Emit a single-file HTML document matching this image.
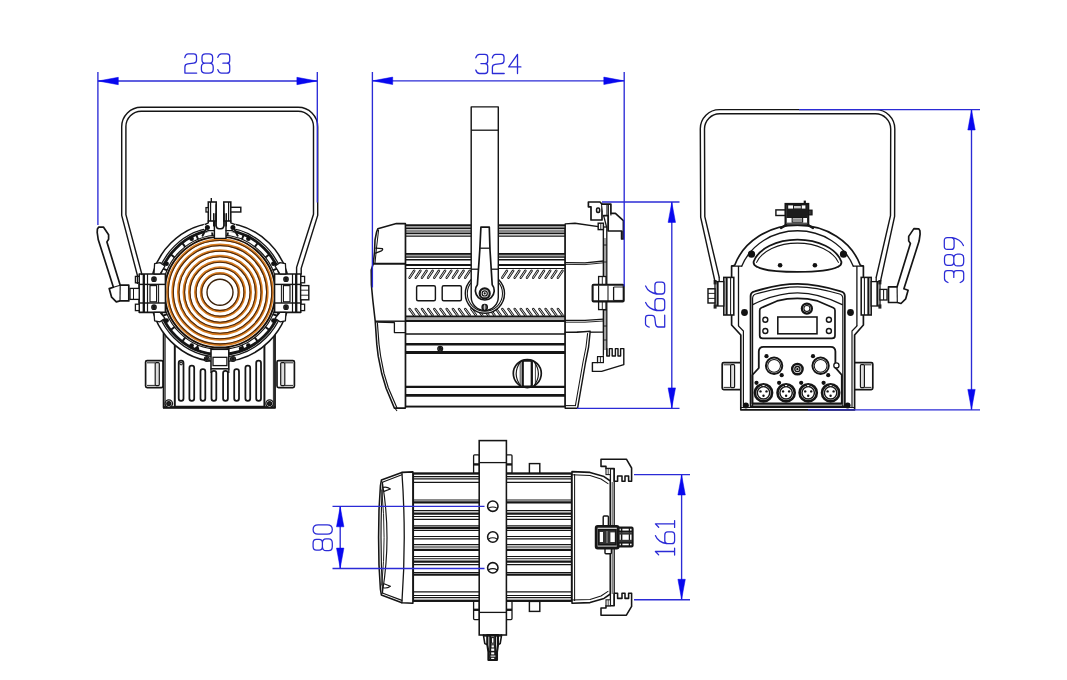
<!DOCTYPE html>
<html><head><meta charset="utf-8"><title>Dimensions</title>
<style>html,body{margin:0;padding:0;background:#fff;font-family:"Liberation Sans",sans-serif;}svg{display:block}</style></head>
<body><svg width="1067" height="680" viewBox="0 0 1067 680">
<rect width="1067" height="680" fill="#ffffff"/>
<path d="M163.6,332.0L163.6,407.4L275.0,407.4L275.0,332.0" stroke="#151515" stroke-width="1.82" fill="#fff" stroke-linejoin="round"/>
<path d="M163.0,407.4L275.6,407.4" stroke="#151515" stroke-width="2.47" fill="none"/>
<path d="M165.2,334.0L165.2,406.0" stroke="#151515" stroke-width="0.91" fill="none"/>
<path d="M273.4,334.0L273.4,406.0" stroke="#151515" stroke-width="0.91" fill="none"/>
<path d="M174.8,340.0L174.8,406.6L264.4,406.6L264.4,340.0" stroke="#151515" stroke-width="1.95" fill="none" stroke-linejoin="round"/>
<rect x="178.7" y="360.6" width="4.8" height="40.2" rx="2.3" stroke="#151515" stroke-width="1.76" fill="#fff"/>
<rect x="189.4" y="365.6" width="4.8" height="35.2" rx="2.3" stroke="#151515" stroke-width="1.76" fill="#fff"/>
<rect x="200.5" y="369.2" width="4.8" height="31.6" rx="2.3" stroke="#151515" stroke-width="1.76" fill="#fff"/>
<rect x="211.5" y="370.8" width="4.8" height="30.0" rx="2.3" stroke="#151515" stroke-width="1.76" fill="#fff"/>
<rect x="223.1" y="370.8" width="4.8" height="30.0" rx="2.3" stroke="#151515" stroke-width="1.76" fill="#fff"/>
<rect x="234.2" y="369.2" width="4.8" height="31.6" rx="2.3" stroke="#151515" stroke-width="1.76" fill="#fff"/>
<rect x="245.4" y="365.6" width="4.8" height="35.2" rx="2.3" stroke="#151515" stroke-width="1.76" fill="#fff"/>
<rect x="256.2" y="360.6" width="4.8" height="40.2" rx="2.3" stroke="#151515" stroke-width="1.76" fill="#fff"/>
<circle cx="181.1" cy="363.6" r="1.3" stroke="#151515" stroke-width="1.04" fill="none"/>
<rect x="145.6" y="360.6" width="17.4" height="27.0" rx="1.5" stroke="#151515" stroke-width="1.69" fill="#fff"/>
<rect x="155.2" y="362.6" width="4.1" height="23.0" rx="1" stroke="#151515" stroke-width="1.17" fill="#ddd"/>
<path d="M147.0,362.8L155.0,362.8" stroke="#151515" stroke-width="0.91" fill="none"/>
<path d="M147.0,385.4L155.0,385.4" stroke="#151515" stroke-width="0.91" fill="none"/>
<rect x="277.0" y="360.6" width="17.4" height="27.0" rx="1.5" stroke="#151515" stroke-width="1.69" fill="#fff"/>
<rect x="280.7" y="362.6" width="4.1" height="23.0" rx="1" stroke="#151515" stroke-width="1.17" fill="#ddd"/>
<path d="M293.0,362.8L285.0,362.8" stroke="#151515" stroke-width="0.91" fill="none"/>
<path d="M293.0,385.4L285.0,385.4" stroke="#151515" stroke-width="0.91" fill="none"/>
<circle cx="168.8" cy="403.6" r="3.7" stroke="#151515" stroke-width="1.30" fill="#fff"/>
<circle cx="168.8" cy="403.6" r="2.0" stroke="#151515" stroke-width="1.30" fill="#222"/>
<circle cx="269.6" cy="403.6" r="3.7" stroke="#151515" stroke-width="1.30" fill="#fff"/>
<circle cx="269.6" cy="403.6" r="2.0" stroke="#151515" stroke-width="1.30" fill="#222"/>
<circle cx="220.0" cy="292.2" r="69.5" stroke="#151515" stroke-width="1.56" fill="#fff"/>
<circle cx="220.0" cy="292.2" r="64.8" stroke="#151515" stroke-width="1.30" fill="none"/>
<circle cx="220.0" cy="292.2" r="62.3" stroke="#151515" stroke-width="2.86" fill="none"/>
<circle cx="220.0" cy="292.2" r="57.2" stroke="#151515" stroke-width="1.17" fill="none"/>
<path d="M276.7,299.7L281.8,300.3" stroke="#151515" stroke-width="1.95" fill="none"/>
<path d="M272.8,314.1L277.6,316.0" stroke="#151515" stroke-width="1.95" fill="none"/>
<path d="M265.4,327.0L269.4,330.1" stroke="#151515" stroke-width="1.95" fill="none"/>
<path d="M254.8,337.6L257.9,341.6" stroke="#151515" stroke-width="1.95" fill="none"/>
<path d="M241.9,345.0L243.8,349.8" stroke="#151515" stroke-width="1.95" fill="none"/>
<path d="M227.5,348.9L228.1,354.0" stroke="#151515" stroke-width="1.95" fill="none"/>
<path d="M212.5,348.9L211.9,354.0" stroke="#151515" stroke-width="1.95" fill="none"/>
<path d="M198.1,345.0L196.2,349.8" stroke="#151515" stroke-width="1.95" fill="none"/>
<path d="M185.2,337.6L182.1,341.6" stroke="#151515" stroke-width="1.95" fill="none"/>
<path d="M174.6,327.0L170.6,330.1" stroke="#151515" stroke-width="1.95" fill="none"/>
<path d="M167.2,314.1L162.4,316.0" stroke="#151515" stroke-width="1.95" fill="none"/>
<path d="M163.3,299.7L158.2,300.3" stroke="#151515" stroke-width="1.95" fill="none"/>
<path d="M163.3,284.7L158.2,284.1" stroke="#151515" stroke-width="1.95" fill="none"/>
<path d="M167.2,270.3L162.4,268.4" stroke="#151515" stroke-width="1.95" fill="none"/>
<path d="M174.6,257.4L170.6,254.3" stroke="#151515" stroke-width="1.95" fill="none"/>
<path d="M185.2,246.8L182.1,242.8" stroke="#151515" stroke-width="1.95" fill="none"/>
<path d="M198.1,239.4L196.2,234.6" stroke="#151515" stroke-width="1.95" fill="none"/>
<path d="M212.5,235.5L211.9,230.4" stroke="#151515" stroke-width="1.95" fill="none"/>
<path d="M227.5,235.5L228.1,230.4" stroke="#151515" stroke-width="1.95" fill="none"/>
<path d="M241.9,239.4L243.8,234.6" stroke="#151515" stroke-width="1.95" fill="none"/>
<path d="M254.8,246.8L257.9,242.8" stroke="#151515" stroke-width="1.95" fill="none"/>
<path d="M265.4,257.4L269.4,254.3" stroke="#151515" stroke-width="1.95" fill="none"/>
<path d="M272.8,270.3L277.6,268.4" stroke="#151515" stroke-width="1.95" fill="none"/>
<path d="M276.7,284.7L281.8,284.1" stroke="#151515" stroke-width="1.95" fill="none"/>
<circle cx="191.6" cy="238.8" r="2.3" stroke="#151515" stroke-width="0.00" fill="#111"/>
<circle cx="248.4" cy="238.8" r="2.3" stroke="#151515" stroke-width="0.00" fill="#111"/>
<circle cx="191.6" cy="345.6" r="2.3" stroke="#151515" stroke-width="0.00" fill="#111"/>
<circle cx="248.4" cy="345.6" r="2.3" stroke="#151515" stroke-width="0.00" fill="#111"/>
<circle cx="166.6" cy="263.8" r="2.3" stroke="#151515" stroke-width="0.00" fill="#111"/>
<circle cx="273.4" cy="263.8" r="2.3" stroke="#151515" stroke-width="0.00" fill="#111"/>
<circle cx="166.6" cy="320.6" r="2.3" stroke="#151515" stroke-width="0.00" fill="#111"/>
<circle cx="273.4" cy="320.6" r="2.3" stroke="#151515" stroke-width="0.00" fill="#111"/>
<circle cx="220.0" cy="292.2" r="55.3" stroke="#1a1008" stroke-width="1.90" fill="#fff"/>
<circle cx="220.0" cy="292.2" r="52.5" stroke="#d97e22" stroke-width="2.50" fill="none"/>
<circle cx="220.0" cy="292.2" r="51.7" stroke="#4a260a" stroke-width="1.10" fill="none"/>
<circle cx="220.0" cy="292.2" r="47.4" stroke="#d97e22" stroke-width="2.50" fill="none"/>
<circle cx="220.0" cy="292.2" r="46.6" stroke="#4a260a" stroke-width="1.10" fill="none"/>
<circle cx="220.0" cy="292.2" r="41.8" stroke="#d97e22" stroke-width="2.50" fill="none"/>
<circle cx="220.0" cy="292.2" r="41.0" stroke="#4a260a" stroke-width="1.10" fill="none"/>
<circle cx="220.0" cy="292.2" r="36.2" stroke="#d97e22" stroke-width="2.50" fill="none"/>
<circle cx="220.0" cy="292.2" r="35.4" stroke="#4a260a" stroke-width="1.10" fill="none"/>
<circle cx="220.0" cy="292.2" r="30.8" stroke="#d97e22" stroke-width="2.50" fill="none"/>
<circle cx="220.0" cy="292.2" r="30.0" stroke="#4a260a" stroke-width="1.10" fill="none"/>
<circle cx="220.0" cy="292.2" r="24.7" stroke="#d97e22" stroke-width="2.50" fill="none"/>
<circle cx="220.0" cy="292.2" r="23.9" stroke="#4a260a" stroke-width="1.10" fill="none"/>
<circle cx="220.0" cy="292.2" r="19.0" stroke="#d97e22" stroke-width="2.50" fill="none"/>
<circle cx="220.0" cy="292.2" r="18.2" stroke="#4a260a" stroke-width="1.10" fill="none"/>
<circle cx="220.0" cy="292.2" r="13.0" stroke="#3a2008" stroke-width="1.40" fill="none"/>
<path d="M139.2,274.0L165.4,274.0L165.4,312.4L139.2,312.4Z" stroke="#151515" stroke-width="1.56" fill="#fff" stroke-linejoin="round"/>
<rect x="139.2" y="284.4" width="26.2" height="18.6" rx="0" stroke="#151515" stroke-width="1.43" fill="#fff"/>
<path d="M143.8,274.0L143.8,312.4" stroke="#151515" stroke-width="2.34" fill="none"/>
<path d="M147.5,274.0L147.5,312.4" stroke="#151515" stroke-width="1.17" fill="none"/>
<rect x="150.0" y="285.6" width="6.6" height="16.2" rx="0" stroke="#151515" stroke-width="1.17" fill="none"/>
<path d="M158.6,284.4L158.6,303.0" stroke="#151515" stroke-width="1.04" fill="none"/>
<rect x="135.4" y="276.4" width="3.8" height="6.4" rx="0" stroke="#151515" stroke-width="1.30" fill="#fff"/>
<rect x="135.4" y="304.2" width="3.8" height="6.4" rx="0" stroke="#151515" stroke-width="1.30" fill="#fff"/>
<circle cx="154.0" cy="279.2" r="2.2" stroke="#151515" stroke-width="1.30" fill="#fff"/>
<circle cx="154.0" cy="279.2" r="1.2" stroke="#151515" stroke-width="1.30" fill="#222"/>
<circle cx="154.0" cy="307.2" r="2.2" stroke="#151515" stroke-width="1.30" fill="#fff"/>
<circle cx="154.0" cy="307.2" r="1.2" stroke="#151515" stroke-width="1.30" fill="#222"/>
<path d="M154.0,274.0L154.6,263.6L160.0,262.6L165.0,266.0L160.0,274.0Z" stroke="#151515" stroke-width="1.30" fill="#fff" stroke-linejoin="round"/>
<path d="M154.0,312.4L154.6,320.8L160.0,321.8L165.0,318.4L160.0,312.4Z" stroke="#151515" stroke-width="1.30" fill="#fff" stroke-linejoin="round"/>
<path d="M300.8,274.0L274.6,274.0L274.6,312.4L300.8,312.4Z" stroke="#151515" stroke-width="1.56" fill="#fff" stroke-linejoin="round"/>
<rect x="274.6" y="284.4" width="26.2" height="18.6" rx="0" stroke="#151515" stroke-width="1.43" fill="#fff"/>
<path d="M296.2,274.0L296.2,312.4" stroke="#151515" stroke-width="2.34" fill="none"/>
<path d="M292.5,274.0L292.5,312.4" stroke="#151515" stroke-width="1.17" fill="none"/>
<rect x="283.4" y="285.6" width="6.6" height="16.2" rx="0" stroke="#151515" stroke-width="1.17" fill="none"/>
<path d="M281.4,284.4L281.4,303.0" stroke="#151515" stroke-width="1.04" fill="none"/>
<rect x="300.8" y="276.4" width="3.8" height="6.4" rx="0" stroke="#151515" stroke-width="1.30" fill="#fff"/>
<rect x="300.8" y="304.2" width="3.8" height="6.4" rx="0" stroke="#151515" stroke-width="1.30" fill="#fff"/>
<circle cx="286.0" cy="279.2" r="2.2" stroke="#151515" stroke-width="1.30" fill="#fff"/>
<circle cx="286.0" cy="279.2" r="1.2" stroke="#151515" stroke-width="1.30" fill="#222"/>
<circle cx="286.0" cy="307.2" r="2.2" stroke="#151515" stroke-width="1.30" fill="#fff"/>
<circle cx="286.0" cy="307.2" r="1.2" stroke="#151515" stroke-width="1.30" fill="#222"/>
<path d="M286.0,274.0L285.4,263.6L280.0,262.6L275.0,266.0L280.0,274.0Z" stroke="#151515" stroke-width="1.30" fill="#fff" stroke-linejoin="round"/>
<path d="M286.0,312.4L285.4,320.8L280.0,321.8L275.0,318.4L280.0,312.4Z" stroke="#151515" stroke-width="1.30" fill="#fff" stroke-linejoin="round"/>
<rect x="130.0" y="288.4" width="9.2" height="11.0" rx="0" stroke="#151515" stroke-width="1.30" fill="#fff"/>
<path d="M133.5,288.4L133.5,299.4" stroke="#151515" stroke-width="1.04" fill="none"/>
<path d="M98.6,227.2L103.4,227.0L108.6,234.8L108.6,239.3L106.9,241.9L120.2,285.2L128.8,285.2L128.8,300.9L120.0,300.9L116.3,301.9L111.6,297.2L109.2,288.6L113.4,287.2L98.2,239.5L97.2,232.5L97.4,229.0Z" stroke="#151515" stroke-width="1.69" fill="#fff" stroke-linejoin="round"/>
<path d="M120.2,285.2L120.0,300.9" stroke="#151515" stroke-width="1.17" fill="none"/>
<path d="M113.4,287.2L120.2,285.2" stroke="#151515" stroke-width="1.04" fill="none"/>
<rect x="300.6" y="285.6" width="8.2" height="14.2" rx="0" stroke="#151515" stroke-width="1.43" fill="#fff"/>
<path d="M300.6,290.2L308.8,290.2" stroke="#151515" stroke-width="0.91" fill="none"/>
<path d="M300.6,295.2L308.8,295.2" stroke="#151515" stroke-width="0.91" fill="none"/>
<path d="M137.4,275.4 L121.7,215.4 L121.7,126.8 A19.5,19.5 0 0 1 141.2,107.3 L298.2,107.3 A19.5,19.5 0 0 1 317.7,126.8 L317.7,215.4 L301.2,268.4 L301.2,274" stroke="#151515" stroke-width="1.43" fill="none" stroke-linejoin="round" stroke-linecap="round" />
<path d="M141.9,274.4 L125.9,214.6 L125.9,126.5 A15.3,15.3 0 0 1 141.2,111.2 L298.2,111.2 A15.3,15.3 0 0 1 313.5,126.5 L313.5,214.2 L296.6,267.4 L296.6,274" stroke="#151515" stroke-width="1.43" fill="none" stroke-linejoin="round" stroke-linecap="round" />
<path d="M137.4,275.4L137.4,284.0" stroke="#151515" stroke-width="1.30" fill="none"/>
<path d="M141.9,274.4L141.9,274.0" stroke="#151515" stroke-width="1.30" fill="none"/>
<path d="M205.6,221.2L234.0,221.2L236.4,226.0L234.6,232.4L205.0,232.4L203.2,226.0Z" stroke="#fff" stroke-width="0.00" fill="#fff" stroke-linejoin="round"/>
<path d="M214.4,221.0L214.4,238.4L226.0,238.4L226.0,221.0" stroke="#151515" stroke-width="1.43" fill="#fff" stroke-linejoin="round"/>
<rect x="208.3" y="202.0" width="7.9" height="19.0" rx="0" stroke="#151515" stroke-width="1.56" fill="#fff"/>
<rect x="223.8" y="202.0" width="7.0" height="19.0" rx="0" stroke="#151515" stroke-width="1.56" fill="#fff"/>
<path d="M210.6,202.0L210.6,221.0" stroke="#151515" stroke-width="1.17" fill="none"/>
<path d="M228.6,202.0L228.6,221.0" stroke="#151515" stroke-width="1.17" fill="none"/>
<rect x="230.8" y="207.3" width="10.0" height="4.7" rx="0" stroke="#151515" stroke-width="1.43" fill="#fff"/>
<rect x="206.0" y="207.6" width="2.3" height="4.4" rx="0" stroke="#151515" stroke-width="1.30" fill="#fff"/>
<path d="M211.3,198.0L211.3,202.0" stroke="#151515" stroke-width="1.43" fill="none"/>
<path d="M216.2,204.6 L216.2,225.6 Q216.2,228.8 219,228.8 L221,228.8 Q223.8,228.8 223.8,225.6 L223.8,204.6" stroke="#151515" stroke-width="1.43" fill="none" stroke-linejoin="round" stroke-linecap="round" />
<path d="M213.6,213.6 L213.6,226 M215.2,213.6 L215.2,226 M224.8,213.6 L224.8,226 M226.4,213.6 L226.4,226" stroke="#151515" stroke-width="1.17" fill="none" stroke-linejoin="round" stroke-linecap="round" />
<path d="M208.3,221 L208.3,222.8 L205.2,224.4 M230.8,221 L230.8,222.8 L234.6,224.4" stroke="#151515" stroke-width="1.43" fill="none" stroke-linejoin="round" stroke-linecap="round" />
<path d="M208.3,230.6 L214.4,230.6 M226,230.6 L232,230.6" stroke="#151515" stroke-width="1.30" fill="none" stroke-linejoin="round" stroke-linecap="round" />
<path d="M206,231.6 L208.3,230.6 M234.2,231.6 L232,230.6" stroke="#151515" stroke-width="1.30" fill="none" stroke-linejoin="round" stroke-linecap="round" />
<circle cx="207.4" cy="227.6" r="2.5" stroke="#151515" stroke-width="0.00" fill="#111"/>
<circle cx="232.9" cy="227.6" r="2.5" stroke="#151515" stroke-width="0.00" fill="#111"/>
<path d="M205.6,229.6 L202.6,235.6 M234.6,229.6 L237.6,235.6" stroke="#151515" stroke-width="2.08" fill="none" stroke-linejoin="round" stroke-linecap="round" />
<rect x="211.0" y="349.3" width="17.8" height="19.5" rx="0" stroke="#151515" stroke-width="1.56" fill="#fff"/>
<rect x="213.0" y="357.3" width="13.9" height="8.3" rx="0" stroke="#151515" stroke-width="1.30" fill="none"/>
<path d="M211.0,368.8L211.0,373.0" stroke="#151515" stroke-width="1.30" fill="none"/>
<path d="M228.8,368.8L228.8,373.0" stroke="#151515" stroke-width="1.30" fill="none"/>
<circle cx="206.8" cy="359.0" r="2.4" stroke="#151515" stroke-width="1.30" fill="#fff"/>
<circle cx="206.8" cy="359.0" r="1.3" stroke="#151515" stroke-width="1.30" fill="#222"/>
<circle cx="233.0" cy="359.0" r="2.4" stroke="#151515" stroke-width="1.30" fill="#fff"/>
<circle cx="233.0" cy="359.0" r="1.3" stroke="#151515" stroke-width="1.30" fill="#222"/>
<circle cx="197.0" cy="348.8" r="2.2" stroke="#151515" stroke-width="0.00" fill="#111"/>
<circle cx="241.0" cy="348.8" r="2.2" stroke="#151515" stroke-width="0.00" fill="#111"/>
<rect x="405.4" y="225.3" width="159.8" height="181.3" rx="0" stroke="#151515" stroke-width="1.56" fill="#fff"/>
<rect x="405.4" y="225.6" width="159.8" height="2.6" rx="0" stroke="#151515" stroke-width="0.00" fill="#9a9a9a"/>
<rect x="405.4" y="254.2" width="159.8" height="2.8" rx="0" stroke="#151515" stroke-width="0.00" fill="#9a9a9a"/>
<path d="M405.4,225.3L565.2,225.3" stroke="#151515" stroke-width="1.50" fill="none"/>
<path d="M405.4,228.4L565.2,228.4" stroke="#151515" stroke-width="1.50" fill="none"/>
<path d="M405.4,231.0L565.2,231.0" stroke="#151515" stroke-width="1.20" fill="none"/>
<path d="M405.4,233.3L565.2,233.3" stroke="#151515" stroke-width="1.80" fill="none"/>
<path d="M405.4,236.1L565.2,236.1" stroke="#151515" stroke-width="1.20" fill="none"/>
<path d="M405.4,253.9L565.2,253.9" stroke="#151515" stroke-width="1.60" fill="none"/>
<path d="M405.4,257.2L565.2,257.2" stroke="#151515" stroke-width="1.20" fill="none"/>
<path d="M405.4,259.8L565.2,259.8" stroke="#151515" stroke-width="1.50" fill="none"/>
<path d="M405.4,265.1L565.2,265.1" stroke="#151515" stroke-width="2.00" fill="none"/>
<path d="M405.4,268.5L565.2,268.5" stroke="#151515" stroke-width="1.00" fill="none"/>
<path d="M405.4,316.5L565.2,316.5" stroke="#151515" stroke-width="1.80" fill="none"/>
<path d="M405.4,319.0L565.2,319.0" stroke="#151515" stroke-width="0.70" fill="none"/>
<path d="M405.4,321.1L565.2,321.1" stroke="#151515" stroke-width="2.00" fill="none"/>
<path d="M405.4,334.0L565.2,334.0" stroke="#151515" stroke-width="1.30" fill="none"/>
<path d="M405.4,344.3L565.2,344.3" stroke="#151515" stroke-width="2.50" fill="none"/>
<path d="M405.4,352.5L565.2,352.5" stroke="#151515" stroke-width="2.80" fill="none"/>
<path d="M405.4,386.9L565.2,386.9" stroke="#151515" stroke-width="2.40" fill="none"/>
<path d="M405.4,395.4L565.2,395.4" stroke="#151515" stroke-width="2.80" fill="none"/>
<path d="M405.4,406.6L565.2,406.6" stroke="#151515" stroke-width="1.50" fill="none"/>
<path d="M409.6,277.6L414.2,270.8" stroke="#151515" stroke-width="2.50" fill="none" stroke-linejoin="round" stroke-linecap="round" />
<path d="M409.6,277.6L414.2,270.8" stroke="#fff" stroke-width="0.80" fill="none" stroke-linejoin="round" stroke-linecap="round" />
<path d="M415.8,277.6L420.4,270.8" stroke="#151515" stroke-width="2.50" fill="none" stroke-linejoin="round" stroke-linecap="round" />
<path d="M415.8,277.6L420.4,270.8" stroke="#fff" stroke-width="0.80" fill="none" stroke-linejoin="round" stroke-linecap="round" />
<path d="M422.0,277.6L426.6,270.8" stroke="#151515" stroke-width="2.50" fill="none" stroke-linejoin="round" stroke-linecap="round" />
<path d="M422.0,277.6L426.6,270.8" stroke="#fff" stroke-width="0.80" fill="none" stroke-linejoin="round" stroke-linecap="round" />
<path d="M428.1,277.6L432.7,270.8" stroke="#151515" stroke-width="2.50" fill="none" stroke-linejoin="round" stroke-linecap="round" />
<path d="M428.1,277.6L432.7,270.8" stroke="#fff" stroke-width="0.80" fill="none" stroke-linejoin="round" stroke-linecap="round" />
<path d="M434.3,277.6L438.9,270.8" stroke="#151515" stroke-width="2.50" fill="none" stroke-linejoin="round" stroke-linecap="round" />
<path d="M434.3,277.6L438.9,270.8" stroke="#fff" stroke-width="0.80" fill="none" stroke-linejoin="round" stroke-linecap="round" />
<path d="M440.5,277.6L445.1,270.8" stroke="#151515" stroke-width="2.50" fill="none" stroke-linejoin="round" stroke-linecap="round" />
<path d="M440.5,277.6L445.1,270.8" stroke="#fff" stroke-width="0.80" fill="none" stroke-linejoin="round" stroke-linecap="round" />
<path d="M446.7,277.6L451.3,270.8" stroke="#151515" stroke-width="2.50" fill="none" stroke-linejoin="round" stroke-linecap="round" />
<path d="M446.7,277.6L451.3,270.8" stroke="#fff" stroke-width="0.80" fill="none" stroke-linejoin="round" stroke-linecap="round" />
<path d="M452.9,277.6L457.5,270.8" stroke="#151515" stroke-width="2.50" fill="none" stroke-linejoin="round" stroke-linecap="round" />
<path d="M452.9,277.6L457.5,270.8" stroke="#fff" stroke-width="0.80" fill="none" stroke-linejoin="round" stroke-linecap="round" />
<path d="M459.0,277.6L463.6,270.8" stroke="#151515" stroke-width="2.50" fill="none" stroke-linejoin="round" stroke-linecap="round" />
<path d="M459.0,277.6L463.6,270.8" stroke="#fff" stroke-width="0.80" fill="none" stroke-linejoin="round" stroke-linecap="round" />
<path d="M465.2,277.6L469.8,270.8" stroke="#151515" stroke-width="2.50" fill="none" stroke-linejoin="round" stroke-linecap="round" />
<path d="M465.2,277.6L469.8,270.8" stroke="#fff" stroke-width="0.80" fill="none" stroke-linejoin="round" stroke-linecap="round" />
<path d="M502.3,277.6L506.9,270.8" stroke="#151515" stroke-width="2.50" fill="none" stroke-linejoin="round" stroke-linecap="round" />
<path d="M502.3,277.6L506.9,270.8" stroke="#fff" stroke-width="0.80" fill="none" stroke-linejoin="round" stroke-linecap="round" />
<path d="M508.5,277.6L513.1,270.8" stroke="#151515" stroke-width="2.50" fill="none" stroke-linejoin="round" stroke-linecap="round" />
<path d="M508.5,277.6L513.1,270.8" stroke="#fff" stroke-width="0.80" fill="none" stroke-linejoin="round" stroke-linecap="round" />
<path d="M514.7,277.6L519.3,270.8" stroke="#151515" stroke-width="2.50" fill="none" stroke-linejoin="round" stroke-linecap="round" />
<path d="M514.7,277.6L519.3,270.8" stroke="#fff" stroke-width="0.80" fill="none" stroke-linejoin="round" stroke-linecap="round" />
<path d="M520.8,277.6L525.4,270.8" stroke="#151515" stroke-width="2.50" fill="none" stroke-linejoin="round" stroke-linecap="round" />
<path d="M520.8,277.6L525.4,270.8" stroke="#fff" stroke-width="0.80" fill="none" stroke-linejoin="round" stroke-linecap="round" />
<path d="M527.0,277.6L531.6,270.8" stroke="#151515" stroke-width="2.50" fill="none" stroke-linejoin="round" stroke-linecap="round" />
<path d="M527.0,277.6L531.6,270.8" stroke="#fff" stroke-width="0.80" fill="none" stroke-linejoin="round" stroke-linecap="round" />
<path d="M533.2,277.6L537.8,270.8" stroke="#151515" stroke-width="2.50" fill="none" stroke-linejoin="round" stroke-linecap="round" />
<path d="M533.2,277.6L537.8,270.8" stroke="#fff" stroke-width="0.80" fill="none" stroke-linejoin="round" stroke-linecap="round" />
<path d="M539.4,277.6L544.0,270.8" stroke="#151515" stroke-width="2.50" fill="none" stroke-linejoin="round" stroke-linecap="round" />
<path d="M539.4,277.6L544.0,270.8" stroke="#fff" stroke-width="0.80" fill="none" stroke-linejoin="round" stroke-linecap="round" />
<path d="M545.6,277.6L550.2,270.8" stroke="#151515" stroke-width="2.50" fill="none" stroke-linejoin="round" stroke-linecap="round" />
<path d="M545.6,277.6L550.2,270.8" stroke="#fff" stroke-width="0.80" fill="none" stroke-linejoin="round" stroke-linecap="round" />
<path d="M551.7,277.6L556.3,270.8" stroke="#151515" stroke-width="2.50" fill="none" stroke-linejoin="round" stroke-linecap="round" />
<path d="M551.7,277.6L556.3,270.8" stroke="#fff" stroke-width="0.80" fill="none" stroke-linejoin="round" stroke-linecap="round" />
<path d="M557.9,277.6L562.5,270.8" stroke="#151515" stroke-width="2.50" fill="none" stroke-linejoin="round" stroke-linecap="round" />
<path d="M557.9,277.6L562.5,270.8" stroke="#fff" stroke-width="0.80" fill="none" stroke-linejoin="round" stroke-linecap="round" />
<path d="M409.6,309.0L414.2,315.2" stroke="#151515" stroke-width="2.50" fill="none" stroke-linejoin="round" stroke-linecap="round" />
<path d="M409.6,309.0L414.2,315.2" stroke="#fff" stroke-width="0.80" fill="none" stroke-linejoin="round" stroke-linecap="round" />
<path d="M415.8,309.0L420.4,315.2" stroke="#151515" stroke-width="2.50" fill="none" stroke-linejoin="round" stroke-linecap="round" />
<path d="M415.8,309.0L420.4,315.2" stroke="#fff" stroke-width="0.80" fill="none" stroke-linejoin="round" stroke-linecap="round" />
<path d="M422.0,309.0L426.6,315.2" stroke="#151515" stroke-width="2.50" fill="none" stroke-linejoin="round" stroke-linecap="round" />
<path d="M422.0,309.0L426.6,315.2" stroke="#fff" stroke-width="0.80" fill="none" stroke-linejoin="round" stroke-linecap="round" />
<path d="M428.1,309.0L432.7,315.2" stroke="#151515" stroke-width="2.50" fill="none" stroke-linejoin="round" stroke-linecap="round" />
<path d="M428.1,309.0L432.7,315.2" stroke="#fff" stroke-width="0.80" fill="none" stroke-linejoin="round" stroke-linecap="round" />
<path d="M434.3,309.0L438.9,315.2" stroke="#151515" stroke-width="2.50" fill="none" stroke-linejoin="round" stroke-linecap="round" />
<path d="M434.3,309.0L438.9,315.2" stroke="#fff" stroke-width="0.80" fill="none" stroke-linejoin="round" stroke-linecap="round" />
<path d="M440.5,309.0L445.1,315.2" stroke="#151515" stroke-width="2.50" fill="none" stroke-linejoin="round" stroke-linecap="round" />
<path d="M440.5,309.0L445.1,315.2" stroke="#fff" stroke-width="0.80" fill="none" stroke-linejoin="round" stroke-linecap="round" />
<path d="M446.7,309.0L451.3,315.2" stroke="#151515" stroke-width="2.50" fill="none" stroke-linejoin="round" stroke-linecap="round" />
<path d="M446.7,309.0L451.3,315.2" stroke="#fff" stroke-width="0.80" fill="none" stroke-linejoin="round" stroke-linecap="round" />
<path d="M452.9,309.0L457.5,315.2" stroke="#151515" stroke-width="2.50" fill="none" stroke-linejoin="round" stroke-linecap="round" />
<path d="M452.9,309.0L457.5,315.2" stroke="#fff" stroke-width="0.80" fill="none" stroke-linejoin="round" stroke-linecap="round" />
<path d="M459.0,309.0L463.6,315.2" stroke="#151515" stroke-width="2.50" fill="none" stroke-linejoin="round" stroke-linecap="round" />
<path d="M459.0,309.0L463.6,315.2" stroke="#fff" stroke-width="0.80" fill="none" stroke-linejoin="round" stroke-linecap="round" />
<path d="M465.2,309.0L469.8,315.2" stroke="#151515" stroke-width="2.50" fill="none" stroke-linejoin="round" stroke-linecap="round" />
<path d="M465.2,309.0L469.8,315.2" stroke="#fff" stroke-width="0.80" fill="none" stroke-linejoin="round" stroke-linecap="round" />
<path d="M471.4,309.0L476.0,315.2" stroke="#151515" stroke-width="2.50" fill="none" stroke-linejoin="round" stroke-linecap="round" />
<path d="M471.4,309.0L476.0,315.2" stroke="#fff" stroke-width="0.80" fill="none" stroke-linejoin="round" stroke-linecap="round" />
<path d="M477.6,309.0L482.2,315.2" stroke="#151515" stroke-width="2.50" fill="none" stroke-linejoin="round" stroke-linecap="round" />
<path d="M477.6,309.0L482.2,315.2" stroke="#fff" stroke-width="0.80" fill="none" stroke-linejoin="round" stroke-linecap="round" />
<path d="M483.8,309.0L488.4,315.2" stroke="#151515" stroke-width="2.50" fill="none" stroke-linejoin="round" stroke-linecap="round" />
<path d="M483.8,309.0L488.4,315.2" stroke="#fff" stroke-width="0.80" fill="none" stroke-linejoin="round" stroke-linecap="round" />
<path d="M489.9,309.0L494.5,315.2" stroke="#151515" stroke-width="2.50" fill="none" stroke-linejoin="round" stroke-linecap="round" />
<path d="M489.9,309.0L494.5,315.2" stroke="#fff" stroke-width="0.80" fill="none" stroke-linejoin="round" stroke-linecap="round" />
<path d="M496.1,309.0L500.7,315.2" stroke="#151515" stroke-width="2.50" fill="none" stroke-linejoin="round" stroke-linecap="round" />
<path d="M496.1,309.0L500.7,315.2" stroke="#fff" stroke-width="0.80" fill="none" stroke-linejoin="round" stroke-linecap="round" />
<path d="M502.3,309.0L506.9,315.2" stroke="#151515" stroke-width="2.50" fill="none" stroke-linejoin="round" stroke-linecap="round" />
<path d="M502.3,309.0L506.9,315.2" stroke="#fff" stroke-width="0.80" fill="none" stroke-linejoin="round" stroke-linecap="round" />
<path d="M508.5,309.0L513.1,315.2" stroke="#151515" stroke-width="2.50" fill="none" stroke-linejoin="round" stroke-linecap="round" />
<path d="M508.5,309.0L513.1,315.2" stroke="#fff" stroke-width="0.80" fill="none" stroke-linejoin="round" stroke-linecap="round" />
<path d="M514.7,309.0L519.3,315.2" stroke="#151515" stroke-width="2.50" fill="none" stroke-linejoin="round" stroke-linecap="round" />
<path d="M514.7,309.0L519.3,315.2" stroke="#fff" stroke-width="0.80" fill="none" stroke-linejoin="round" stroke-linecap="round" />
<path d="M520.8,309.0L525.4,315.2" stroke="#151515" stroke-width="2.50" fill="none" stroke-linejoin="round" stroke-linecap="round" />
<path d="M520.8,309.0L525.4,315.2" stroke="#fff" stroke-width="0.80" fill="none" stroke-linejoin="round" stroke-linecap="round" />
<path d="M527.0,309.0L531.6,315.2" stroke="#151515" stroke-width="2.50" fill="none" stroke-linejoin="round" stroke-linecap="round" />
<path d="M527.0,309.0L531.6,315.2" stroke="#fff" stroke-width="0.80" fill="none" stroke-linejoin="round" stroke-linecap="round" />
<path d="M533.2,309.0L537.8,315.2" stroke="#151515" stroke-width="2.50" fill="none" stroke-linejoin="round" stroke-linecap="round" />
<path d="M533.2,309.0L537.8,315.2" stroke="#fff" stroke-width="0.80" fill="none" stroke-linejoin="round" stroke-linecap="round" />
<path d="M539.4,309.0L544.0,315.2" stroke="#151515" stroke-width="2.50" fill="none" stroke-linejoin="round" stroke-linecap="round" />
<path d="M539.4,309.0L544.0,315.2" stroke="#fff" stroke-width="0.80" fill="none" stroke-linejoin="round" stroke-linecap="round" />
<path d="M545.6,309.0L550.2,315.2" stroke="#151515" stroke-width="2.50" fill="none" stroke-linejoin="round" stroke-linecap="round" />
<path d="M545.6,309.0L550.2,315.2" stroke="#fff" stroke-width="0.80" fill="none" stroke-linejoin="round" stroke-linecap="round" />
<path d="M551.7,309.0L556.3,315.2" stroke="#151515" stroke-width="2.50" fill="none" stroke-linejoin="round" stroke-linecap="round" />
<path d="M551.7,309.0L556.3,315.2" stroke="#fff" stroke-width="0.80" fill="none" stroke-linejoin="round" stroke-linecap="round" />
<path d="M557.9,309.0L562.5,315.2" stroke="#151515" stroke-width="2.50" fill="none" stroke-linejoin="round" stroke-linecap="round" />
<path d="M557.9,309.0L562.5,315.2" stroke="#fff" stroke-width="0.80" fill="none" stroke-linejoin="round" stroke-linecap="round" />
<rect x="416.6" y="285.8" width="18.8" height="15.0" rx="1.5" stroke="#151515" stroke-width="1.43" fill="#fff"/>
<rect x="442.2" y="285.8" width="19.2" height="15.0" rx="1.5" stroke="#151515" stroke-width="1.43" fill="#fff"/>
<circle cx="440.2" cy="348.8" r="2.4" stroke="#151515" stroke-width="1.30" fill="#fff"/>
<circle cx="440.2" cy="348.8" r="1.3" stroke="#151515" stroke-width="1.30" fill="#222"/>
<path d="M405.4,223.6 L396.4,223.6 L377.8,228.8 L376.6,232 L375,240 L374.5,252 L373.3,263.7 L371.2,270 L371.4,285 L372.8,300 L375.2,321 L376.8,344.4 L378.2,356.2 L381.8,373.8 L386.2,388.5 L394.4,408.1 L405.4,408.1 Z" stroke="#151515" stroke-width="1.56" fill="#fff" stroke-linejoin="round" stroke-linecap="round" />
<path d="M373.3,263.7L405.4,263.7" stroke="#151515" stroke-width="2.08" fill="none"/>
<path d="M375.2,321.2L405.4,321.2" stroke="#151515" stroke-width="1.43" fill="none"/>
<path d="M376.6,322 L394.4,322.6 L394.4,332.6 L405.4,332.6" stroke="#151515" stroke-width="1.30" fill="none" stroke-linejoin="round" stroke-linecap="round" />
<path d="M377.4,323 L379,344 L380.6,356 L384,373.4 L388.4,388 L396.8,407.6" stroke="#151515" stroke-width="1.17" fill="none" stroke-linejoin="round" stroke-linecap="round" />
<path d="M378.6,230 L376.6,247 L375,263" stroke="#151515" stroke-width="1.04" fill="none" stroke-linejoin="round" stroke-linecap="round" />
<path d="M375.8,248.1 L382.4,248.6 Q383.2,250 381.4,250.8 L375.6,253.2" stroke="#151515" stroke-width="1.30" fill="none" stroke-linejoin="round" stroke-linecap="round" />
<path d="M395.0,408.2L397.0,411.0" stroke="#151515" stroke-width="1.04" fill="none"/>
<path d="M565.2,223.9 L575,223.2 L603.6,227.4 L603.6,332 L565.2,332.4 Z" stroke="#151515" stroke-width="1.43" fill="#fff" stroke-linejoin="round" stroke-linecap="round" />
<path d="M565.2,262.6 L585,262.8 L603.6,261" stroke="#151515" stroke-width="1.30" fill="none" stroke-linejoin="round" stroke-linecap="round" />
<path d="M565.2,264.4 L585,264.6 L603.6,262.8" stroke="#151515" stroke-width="0.91" fill="none" stroke-linejoin="round" stroke-linecap="round" />
<path d="M565.2,320.4 L585,320.4 L603.6,319.2" stroke="#151515" stroke-width="1.30" fill="none" stroke-linejoin="round" stroke-linecap="round" />
<path d="M565.2,322.2 L585,322.2 L603.6,321" stroke="#151515" stroke-width="0.91" fill="none" stroke-linejoin="round" stroke-linecap="round" />
<path d="M565.2,332.4 L577,332.2 L590.2,331.2 L588.6,347 L585.6,362 L577.6,408.2 L565.2,408.2 Z" stroke="#151515" stroke-width="1.43" fill="#fff" stroke-linejoin="round" stroke-linecap="round" />
<path d="M587.6,333.4 L586,347 L583,362 L575.4,405.6" stroke="#151515" stroke-width="1.04" fill="none" stroke-linejoin="round" stroke-linecap="round" />
<path d="M565.2,405.6L576.0,405.6" stroke="#151515" stroke-width="1.04" fill="none"/>
<rect x="603.4" y="227.0" width="3.4" height="130.0" rx="0" stroke="#151515" stroke-width="1.30" fill="#fff"/>
<path d="M605.0,238.0L605.0,350.0" stroke="#151515" stroke-width="0.78" fill="none"/>
<path d="M603.4,245.0L606.8,245.0" stroke="#151515" stroke-width="0.91" fill="none"/>
<path d="M603.4,262.0L606.8,262.0" stroke="#151515" stroke-width="0.91" fill="none"/>
<path d="M603.4,310.0L606.8,310.0" stroke="#151515" stroke-width="0.91" fill="none"/>
<path d="M603.4,326.0L606.8,326.0" stroke="#151515" stroke-width="0.91" fill="none"/>
<path d="M603.4,340.0L606.8,340.0" stroke="#151515" stroke-width="0.91" fill="none"/>
<path d="M588.4,202 L600,202 L602,204.2 L602,220 L591,220 L591,206.8 L588.4,206.8 Z" stroke="#151515" stroke-width="1.69" fill="#fff" stroke-linejoin="round" stroke-linecap="round" />
<rect x="596.6" y="208.0" width="3.0" height="4.4" rx="1.2" stroke="#151515" stroke-width="1.56" fill="#fff"/>
<path d="M602,204.2 L610.9,204.2 L610.9,213.4 L615.4,213.4 L623.4,220.6 L623.4,239 L621.6,239 L621.6,231 L608.2,231 L608.2,215.6 L603.6,215.6" stroke="#151515" stroke-width="1.69" fill="#fff" stroke-linejoin="round" stroke-linecap="round" />
<path d="M607.0,204.2L607.0,215.6" stroke="#151515" stroke-width="1.17" fill="none"/>
<path d="M608.4,204.2L608.4,215.6" stroke="#151515" stroke-width="1.04" fill="none"/>
<path d="M610.9,213.4L610.9,215.6" stroke="#151515" stroke-width="1.17" fill="none"/>
<path d="M603.6,215.6L606.6,227.0" stroke="#151515" stroke-width="1.30" fill="none"/>
<path d="M608.2,215.6L608.2,231.0" stroke="#151515" stroke-width="1.17" fill="none"/>
<rect x="598.2" y="223.2" width="5.2" height="6.4" rx="0" stroke="#151515" stroke-width="1.43" fill="#fff"/>
<path d="M600.8,223.2L600.8,229.6" stroke="#151515" stroke-width="0.91" fill="none"/>
<rect x="598.6" y="276.5" width="7.4" height="8.3" rx="0" stroke="#151515" stroke-width="1.30" fill="#fff"/>
<path d="M602.3,276.5L602.3,284.8" stroke="#151515" stroke-width="0.91" fill="none"/>
<rect x="598.6" y="301.4" width="7.4" height="8.2" rx="0" stroke="#151515" stroke-width="1.30" fill="#fff"/>
<path d="M602.3,301.4L602.3,309.6" stroke="#151515" stroke-width="0.91" fill="none"/>
<rect x="592.6" y="284.8" width="31.1" height="16.6" rx="1" stroke="#151515" stroke-width="2.08" fill="#fff"/>
<path d="M598.6,285.6L598.6,301.8" stroke="#151515" stroke-width="1.17" fill="none"/>
<path d="M613.6,287.0L613.6,300.4" stroke="#151515" stroke-width="1.30" fill="none"/>
<path d="M608.0,285.6L608.0,301.8" stroke="#151515" stroke-width="1.04" fill="none"/>
<path d="M613.6,287.0L623.8,287.0" stroke="#151515" stroke-width="0.91" fill="none"/>
<path d="M613.6,300.4L623.8,300.4" stroke="#151515" stroke-width="0.91" fill="none"/>
<path d="M606.8,348.6 L606.8,356 L609.4,356 L609.4,348.6 L612.2,348.6 L612.2,356 L615.4,356 L615.4,348.6 L618,348.6 L618,356 L620.6,356 L620.6,348.6 L623.8,348.6 L623.8,364.6 L601.6,371.4 L592.4,371.4 L592.4,362.6 L597.6,362.6 L597.6,356.6 L603.4,356.6" stroke="#151515" stroke-width="1.43" fill="#fff" stroke-linejoin="round" stroke-linecap="round" />
<rect x="597.6" y="356.6" width="5.8" height="6.0" rx="0" stroke="#151515" stroke-width="1.17" fill="#fff"/>
<path d="M600.4,356.6L600.4,362.6" stroke="#151515" stroke-width="0.91" fill="none"/>
<circle cx="484.9" cy="293.6" r="19.6" stroke="#151515" stroke-width="1.43" fill="#fff"/>
<circle cx="484.9" cy="293.6" r="17.6" stroke="#151515" stroke-width="1.04" fill="none"/>
<path d="M471.2,106.9 L471.2,297 A13.55,13.55 0 0 0 498.3,297 L498.3,106.9 Z" stroke="#151515" stroke-width="1.43" fill="#fff" stroke-linejoin="round" stroke-linecap="round" />
<path d="M471.2,130.2L498.3,130.2" stroke="#151515" stroke-width="1.30" fill="none"/>
<path d="M471.2,269.2L498.3,269.2" stroke="#151515" stroke-width="1.30" fill="none"/>
<path d="M480.9,227.2 L489.3,227.2 L490,250 L492.2,284.8 A9.4,9.4 0 1 1 477.4,284.8 L479.8,250 Z" stroke="#151515" stroke-width="1.69" fill="#fff" stroke-linejoin="round" stroke-linecap="round" />
<path d="M480.2,248.2L489.8,248.2" stroke="#151515" stroke-width="1.30" fill="none"/>
<circle cx="484.7" cy="293.4" r="5.0" stroke="#151515" stroke-width="2.21" fill="#fff"/>
<circle cx="484.7" cy="293.4" r="2.6" stroke="#151515" stroke-width="1.17" fill="none"/>
<circle cx="484.7" cy="293.4" r="1.1" stroke="#151515" stroke-width="0.00" fill="#111"/>
<circle cx="484.7" cy="307.2" r="2.7" stroke="#151515" stroke-width="1.30" fill="#555"/>
<path d="M484.7,304.6L484.7,309.8" stroke="#fff" stroke-width="0.78" fill="none"/>
<circle cx="527.3" cy="373.6" r="14.0" stroke="#151515" stroke-width="1.69" fill="#fff"/>
<path d="M520.7,361.3 Q511.7,373.6 520.7,385.9" stroke="#151515" stroke-width="1.17" fill="none" stroke-linejoin="round" stroke-linecap="round" />
<path d="M533.9,361.3 Q542.9,373.6 533.9,385.9" stroke="#151515" stroke-width="1.17" fill="none" stroke-linejoin="round" stroke-linecap="round" />
<path d="M520.2,361.5L520.2,385.7" stroke="#151515" stroke-width="0.80" fill="none"/>
<path d="M535.4,362.2L535.4,385.0" stroke="#151515" stroke-width="0.80" fill="none"/>
<rect x="522.7" y="360.6" width="9.1" height="26.0" rx="1.5" stroke="#151515" stroke-width="2.30" fill="#fff"/>
<rect x="722.2" y="362.6" width="20.8" height="27.0" rx="1.5" stroke="#151515" stroke-width="1.69" fill="#fff"/>
<rect x="730.6" y="364.6" width="4.0" height="23.0" rx="1" stroke="#151515" stroke-width="1.17" fill="#ddd"/>
<path d="M723.6,364.8L730.6,364.8" stroke="#151515" stroke-width="0.91" fill="none"/>
<path d="M723.6,387.4L730.6,387.4" stroke="#151515" stroke-width="0.91" fill="none"/>
<rect x="852.0" y="362.6" width="20.8" height="27.0" rx="1.5" stroke="#151515" stroke-width="1.69" fill="#fff"/>
<rect x="860.4" y="364.6" width="4.0" height="23.0" rx="1" stroke="#151515" stroke-width="1.17" fill="#ddd"/>
<path d="M871.4,364.8L864.4,364.8" stroke="#151515" stroke-width="0.91" fill="none"/>
<path d="M871.4,387.4L864.4,387.4" stroke="#151515" stroke-width="0.91" fill="none"/>
<path d="M731.6,266 L734.7,265.3 A66,57.9 0 0 1 860.3,265.3 L863.4,266 L863.4,325 L854.6,335 L854.6,409.8 L740.8,409.8 L740.8,335 L731.6,325 Z" stroke="#151515" stroke-width="1.69" fill="#fff" stroke-linejoin="round" stroke-linecap="round" />
<path d="M741.8,266.1 A59.5,54.5 0 0 1 853.2,266.1" stroke="#151515" stroke-width="1.30" fill="none" stroke-linejoin="round" stroke-linecap="round" />
<path d="M741.8,266.1 L731.6,266.1 M853.2,266.1 L863.4,266.1" stroke="#151515" stroke-width="1.30" fill="none" stroke-linejoin="round" stroke-linecap="round" />
<path d="M738.5,266.0L738.5,326.0" stroke="#151515" stroke-width="1.30" fill="none"/>
<path d="M856.9,266.0L856.9,326.0" stroke="#151515" stroke-width="1.30" fill="none"/>
<path d="M738.5,326 L743.4,331 L743.4,407.6 M856.9,326 L852,331 L852,407.6" stroke="#151515" stroke-width="1.17" fill="none" stroke-linejoin="round" stroke-linecap="round" />
<path d="M753.7,261.5 A45,28.4 0 0 1 841.3,261.5 Q842,265 838,266.8 C825,273.6 770,273.6 757,266.8 Q753,265 753.7,261.5 Z" stroke="#151515" stroke-width="1.82" fill="#fff" stroke-linejoin="round" stroke-linecap="round" />
<path d="M756.6,262.4 A42.4,26.2 0 0 1 838.4,262.4" stroke="#151515" stroke-width="1.04" fill="none" stroke-linejoin="round" stroke-linecap="round" />
<circle cx="780.1" cy="265.3" r="2.3" stroke="#151515" stroke-width="0.00" fill="#111"/>
<circle cx="814.9" cy="265.3" r="2.3" stroke="#151515" stroke-width="0.00" fill="#111"/>
<circle cx="751.5" cy="254.2" r="3.6" stroke="#151515" stroke-width="0.00" fill="#111"/>
<circle cx="843.5" cy="254.2" r="3.6" stroke="#151515" stroke-width="0.00" fill="#111"/>
<circle cx="744.5" cy="312.5" r="3.4" stroke="#151515" stroke-width="0.00" fill="#111"/>
<circle cx="850.5" cy="312.5" r="3.4" stroke="#151515" stroke-width="0.00" fill="#111"/>
<path d="M750.6,406.4 L750.6,296 Q750.6,292.4 754.6,291.4 C772,286 784,283.8 797.7,283.8 C811.4,283.8 824,286 840.8,291.4 Q844.8,292.4 844.8,296 L844.8,406.4 Z" stroke="#151515" stroke-width="1.82" fill="#fff" stroke-linejoin="round" stroke-linecap="round" />
<path d="M752.6,406.4 L752.6,298.4 Q752.6,295 755.8,294 C774,288.8 785,286.8 797.7,286.8 C810.4,286.8 822,288.8 839.6,294 Q842.8,295 842.8,298.4 L842.8,406.4" stroke="#151515" stroke-width="1.17" fill="none" stroke-linejoin="round" stroke-linecap="round" />
<path d="M752.8,304.6 C770,296 785,292.8 797.5,292.8 C810,292.8 825,296 842.2,304.6" stroke="#151515" stroke-width="1.30" fill="none" stroke-linejoin="round" stroke-linecap="round" />
<path d="M759.7,335.4 L759.7,310.4 Q759.7,308.6 761.4,307.8 L777.1,300.9 Q797.4,296 817.6,300.9 L833.3,307.8 Q835,308.6 835,310.4 L835,335.4 Q835,338.4 832,338.4 L762.7,338.4 Q759.7,338.4 759.7,335.4 Z" stroke="#151515" stroke-width="1.69" fill="#fff" stroke-linejoin="round" stroke-linecap="round" />
<rect x="777.8" y="317.0" width="39.2" height="16.8" rx="0" stroke="#151515" stroke-width="1.56" fill="none"/>
<circle cx="765.3" cy="319.8" r="2.5" stroke="#151515" stroke-width="1.43" fill="none"/>
<circle cx="765.3" cy="331.0" r="2.5" stroke="#151515" stroke-width="1.43" fill="none"/>
<circle cx="828.9" cy="319.8" r="2.5" stroke="#151515" stroke-width="1.43" fill="none"/>
<circle cx="828.9" cy="331.0" r="2.5" stroke="#151515" stroke-width="1.43" fill="none"/>
<circle cx="806.9" cy="308.6" r="5.0" stroke="#151515" stroke-width="2.34" fill="#fff"/>
<circle cx="806.9" cy="308.6" r="3.0" stroke="#151515" stroke-width="1.04" fill="none"/>
<path d="M752.4,403.4 L752.4,375 L758.8,368 L758.8,351.6 Q758.8,346.8 763.6,346.8 L830.6,346.8 Q835.4,346.8 835.4,351.6 L835.4,367.6 L841.8,375 L841.8,403.4" stroke="#151515" stroke-width="1.82" fill="none" stroke-linejoin="round" stroke-linecap="round" />
<path d="M752.4,403.6L841.8,403.6" stroke="#151515" stroke-width="2.21" fill="none"/>
<circle cx="774.1" cy="365.8" r="8.2" stroke="#151515" stroke-width="1.95" fill="#fff"/>
<circle cx="774.1" cy="365.8" r="6.4" stroke="#151515" stroke-width="1.04" fill="none"/>
<circle cx="766.5" cy="356.2" r="2.1" stroke="#151515" stroke-width="0.00" fill="#111"/>
<circle cx="781.7" cy="375.2" r="2.1" stroke="#151515" stroke-width="0.00" fill="#111"/>
<circle cx="820.6" cy="365.8" r="8.2" stroke="#151515" stroke-width="1.95" fill="#fff"/>
<circle cx="820.6" cy="365.8" r="6.4" stroke="#151515" stroke-width="1.04" fill="none"/>
<circle cx="813.0" cy="356.2" r="2.1" stroke="#151515" stroke-width="0.00" fill="#111"/>
<circle cx="828.2" cy="375.2" r="2.1" stroke="#151515" stroke-width="0.00" fill="#111"/>
<circle cx="797.4" cy="369.1" r="5.2" stroke="#151515" stroke-width="2.47" fill="#fff"/>
<circle cx="797.4" cy="369.1" r="2.6" stroke="#151515" stroke-width="1.30" fill="none"/>
<circle cx="797.4" cy="369.1" r="1.2" stroke="#151515" stroke-width="0.00" fill="#111"/>
<circle cx="836.4" cy="365.4" r="2.6" stroke="#151515" stroke-width="1.30" fill="#fff"/>
<circle cx="763.5" cy="392.8" r="8.6" stroke="#151515" stroke-width="2.60" fill="#fff"/>
<circle cx="763.5" cy="392.8" r="6.2" stroke="#151515" stroke-width="1.43" fill="none"/>
<circle cx="760.5" cy="391.4" r="1.2" stroke="#151515" stroke-width="0.00" fill="#111"/>
<circle cx="766.5" cy="391.4" r="1.2" stroke="#151515" stroke-width="0.00" fill="#111"/>
<circle cx="763.5" cy="395.8" r="1.2" stroke="#151515" stroke-width="0.00" fill="#111"/>
<circle cx="756.5" cy="382.8" r="2.1" stroke="#151515" stroke-width="0.00" fill="#111"/>
<rect x="761.9" y="384.6" width="3.2" height="2.0" rx="0" stroke="#151515" stroke-width="0.91" fill="#fff"/>
<circle cx="786.1" cy="392.8" r="8.6" stroke="#151515" stroke-width="2.60" fill="#fff"/>
<circle cx="786.1" cy="392.8" r="6.2" stroke="#151515" stroke-width="1.43" fill="none"/>
<circle cx="783.1" cy="391.4" r="1.2" stroke="#151515" stroke-width="0.00" fill="#111"/>
<circle cx="789.1" cy="391.4" r="1.2" stroke="#151515" stroke-width="0.00" fill="#111"/>
<circle cx="786.1" cy="395.8" r="1.2" stroke="#151515" stroke-width="0.00" fill="#111"/>
<circle cx="779.1" cy="382.8" r="2.1" stroke="#151515" stroke-width="0.00" fill="#111"/>
<rect x="784.5" y="384.6" width="3.2" height="2.0" rx="0" stroke="#151515" stroke-width="0.91" fill="#fff"/>
<circle cx="808.2" cy="392.8" r="8.6" stroke="#151515" stroke-width="2.60" fill="#fff"/>
<circle cx="808.2" cy="392.8" r="6.2" stroke="#151515" stroke-width="1.43" fill="none"/>
<circle cx="805.2" cy="391.4" r="1.2" stroke="#151515" stroke-width="0.00" fill="#111"/>
<circle cx="811.2" cy="391.4" r="1.2" stroke="#151515" stroke-width="0.00" fill="#111"/>
<circle cx="808.2" cy="395.8" r="1.2" stroke="#151515" stroke-width="0.00" fill="#111"/>
<circle cx="801.2" cy="382.8" r="2.1" stroke="#151515" stroke-width="0.00" fill="#111"/>
<rect x="806.6" y="384.6" width="3.2" height="2.0" rx="0" stroke="#151515" stroke-width="0.91" fill="#fff"/>
<circle cx="830.6" cy="392.8" r="8.6" stroke="#151515" stroke-width="2.60" fill="#fff"/>
<circle cx="830.6" cy="392.8" r="6.2" stroke="#151515" stroke-width="1.43" fill="none"/>
<circle cx="827.6" cy="391.4" r="1.2" stroke="#151515" stroke-width="0.00" fill="#111"/>
<circle cx="833.6" cy="391.4" r="1.2" stroke="#151515" stroke-width="0.00" fill="#111"/>
<circle cx="830.6" cy="395.8" r="1.2" stroke="#151515" stroke-width="0.00" fill="#111"/>
<circle cx="823.6" cy="382.8" r="2.1" stroke="#151515" stroke-width="0.00" fill="#111"/>
<rect x="829.0" y="384.6" width="3.2" height="2.0" rx="0" stroke="#151515" stroke-width="0.91" fill="#fff"/>
<circle cx="745.9" cy="405.4" r="3.0" stroke="#151515" stroke-width="0.00" fill="#111"/>
<circle cx="847.6" cy="405.4" r="3.0" stroke="#151515" stroke-width="0.00" fill="#111"/>
<path d="M740.8,407.6L854.6,407.6" stroke="#151515" stroke-width="1.04" fill="none"/>
<rect x="775.9" y="209.9" width="9.7" height="5.6" rx="0" stroke="#151515" stroke-width="1.43" fill="#fff"/>
<rect x="785.6" y="204.0" width="22.6" height="21.0" rx="0" stroke="#151515" stroke-width="2.21" fill="#fff"/>
<rect x="786.4" y="204.6" width="21.0" height="13.4" rx="0" stroke="#151515" stroke-width="0.00" fill="#1c1c1c"/>
<rect x="788.2" y="205.4" width="4.8" height="3.2" rx="0" stroke="#151515" stroke-width="0.00" fill="#fff"/>
<rect x="801.8" y="205.4" width="3.6" height="3.2" rx="0" stroke="#151515" stroke-width="0.00" fill="#fff"/>
<rect x="794.0" y="206.0" width="6.8" height="2.4" rx="0" stroke="#151515" stroke-width="0.00" fill="#ccc"/>
<rect x="792.2" y="217.6" width="10.4" height="4.6" rx="0" stroke="#151515" stroke-width="1.17" fill="#fff"/>
<path d="M792.6,219.2L802.2,219.2" stroke="#777" stroke-width="1.17" fill="none"/>
<path d="M792.6,220.8L802.2,220.8" stroke="#777" stroke-width="1.17" fill="none"/>
<rect x="788.2" y="218.8" width="1.8" height="2.6" rx="0" stroke="#151515" stroke-width="0.00" fill="#fff"/>
<rect x="804.4" y="218.8" width="1.8" height="2.6" rx="0" stroke="#151515" stroke-width="0.00" fill="#fff"/>
<rect x="786.4" y="222.6" width="21.0" height="2.0" rx="0" stroke="#151515" stroke-width="0.00" fill="#555"/>
<rect x="808.2" y="210.2" width="3.8" height="4.6" rx="0" stroke="#151515" stroke-width="1.30" fill="#333"/>
<path d="M804.8,200.6L804.8,204.0" stroke="#151515" stroke-width="2.21" fill="none"/>
<path d="M786,225 L781,228 M808,225 L813,228" stroke="#151515" stroke-width="2.34" fill="none" stroke-linejoin="round" stroke-linecap="round" />
<rect x="723.8" y="277.4" width="10.0" height="37.6" rx="0" stroke="#151515" stroke-width="1.56" fill="#fff"/>
<path d="M726.6,277.4L726.6,315.0" stroke="#151515" stroke-width="2.08" fill="none"/>
<path d="M730.6,277.4L730.6,315.0" stroke="#151515" stroke-width="1.04" fill="none"/>
<rect x="715.0" y="281.6" width="8.8" height="24.4" rx="0" stroke="#151515" stroke-width="1.30" fill="#fff"/>
<path d="M717.6,281.6L717.6,306.0" stroke="#151515" stroke-width="2.08" fill="none"/>
<rect x="713.6" y="280.0" width="3.0" height="4.4" rx="0" stroke="#151515" stroke-width="0.00" fill="#222"/>
<rect x="713.6" y="304.4" width="3.0" height="4.2" rx="0" stroke="#151515" stroke-width="0.00" fill="#222"/>
<rect x="861.2" y="277.4" width="10.0" height="37.6" rx="0" stroke="#151515" stroke-width="1.56" fill="#fff"/>
<path d="M868.4,277.4L868.4,315.0" stroke="#151515" stroke-width="2.08" fill="none"/>
<path d="M864.4,277.4L864.4,315.0" stroke="#151515" stroke-width="1.04" fill="none"/>
<rect x="871.2" y="281.6" width="8.8" height="24.4" rx="0" stroke="#151515" stroke-width="1.30" fill="#fff"/>
<path d="M877.4,281.6L877.4,306.0" stroke="#151515" stroke-width="2.08" fill="none"/>
<rect x="878.4" y="280.0" width="3.0" height="4.4" rx="0" stroke="#151515" stroke-width="0.00" fill="#222"/>
<rect x="878.4" y="304.4" width="3.0" height="4.2" rx="0" stroke="#151515" stroke-width="0.00" fill="#222"/>
<rect x="708.0" y="288.8" width="7.0" height="14.2" rx="0" stroke="#151515" stroke-width="1.43" fill="#fff"/>
<path d="M708.0,293.4L715.0,293.4" stroke="#151515" stroke-width="0.91" fill="none"/>
<path d="M708.0,298.4L715.0,298.4" stroke="#151515" stroke-width="0.91" fill="none"/>
<rect x="880.0" y="289.4" width="7.0" height="10.6" rx="0" stroke="#151515" stroke-width="1.30" fill="#fff"/>
<path d="M883.6,289.4L883.6,300.0" stroke="#151515" stroke-width="1.04" fill="none"/>
<path d="M918.7,228.8L913.9,228.6L908.7,236.4L908.7,240.9L910.4,243.5L897.1,286.8L888.5,286.8L888.5,302.5L897.3,302.5L901.0,303.5L905.7,298.8L908.1,290.2L903.9,288.8L919.1,241.1L920.1,234.1L919.9,230.6Z" stroke="#151515" stroke-width="1.69" fill="#fff" stroke-linejoin="round"/>
<path d="M897.1,286.8L897.3,302.5" stroke="#151515" stroke-width="1.17" fill="none"/>
<path d="M715,281.6 L700.7,217.4 L700.3,128.8 A19.2,19.2 0 0 1 719.5,109.6 L875.6,109.6 A19.2,19.2 0 0 1 894.8,128.8 L894.6,216.4 L880.4,281.6" stroke="#151515" stroke-width="1.43" fill="none" stroke-linejoin="round" stroke-linecap="round" />
<path d="M719.2,277.4 L704.8,216.6 L704.5,129 A15.2,15.2 0 0 1 719.7,113.8 L875.5,113.8 A15.2,15.2 0 0 1 890.7,129 L890.5,215.6 L876.2,277.4" stroke="#151515" stroke-width="1.43" fill="none" stroke-linejoin="round" stroke-linecap="round" />
<path d="M719.2,277.4L719.2,281.6" stroke="#151515" stroke-width="1.30" fill="none"/>
<path d="M876.2,277.4L876.2,281.6" stroke="#151515" stroke-width="1.30" fill="none"/>
<rect x="473.6" y="454.8" width="5.8" height="18.7" rx="1" stroke="#151515" stroke-width="1.30" fill="#fff"/>
<rect x="473.6" y="600.8" width="5.8" height="18.8" rx="1" stroke="#151515" stroke-width="1.30" fill="#fff"/>
<path d="M473.6,464.4L479.4,464.4" stroke="#151515" stroke-width="2.34" fill="none"/>
<path d="M473.6,609.8L479.4,609.8" stroke="#151515" stroke-width="2.34" fill="none"/>
<rect x="506.2" y="454.8" width="5.8" height="18.7" rx="1" stroke="#151515" stroke-width="1.30" fill="#fff"/>
<rect x="506.2" y="600.8" width="5.8" height="18.8" rx="1" stroke="#151515" stroke-width="1.30" fill="#fff"/>
<path d="M506.2,464.4L512.0,464.4" stroke="#151515" stroke-width="2.34" fill="none"/>
<path d="M506.2,609.8L512.0,609.8" stroke="#151515" stroke-width="2.34" fill="none"/>
<rect x="529.4" y="463.6" width="10.4" height="10.2" rx="0" stroke="#151515" stroke-width="1.43" fill="#fff"/>
<rect x="529.4" y="601.4" width="10.4" height="10.0" rx="0" stroke="#151515" stroke-width="1.43" fill="#fff"/>
<rect x="412.9" y="473.5" width="159.1" height="127.3" rx="0" stroke="#151515" stroke-width="2.34" fill="#fff"/>
<path d="M412.9,476.6L572.0,476.6" stroke="#151515" stroke-width="1.17" fill="none"/>
<path d="M412.9,478.8L572.0,478.8" stroke="#151515" stroke-width="1.17" fill="none"/>
<path d="M412.9,482.4L572.0,482.4" stroke="#151515" stroke-width="1.17" fill="none"/>
<path d="M412.9,500.0L572.0,500.0" stroke="#151515" stroke-width="1.17" fill="none"/>
<path d="M412.9,502.4L572.0,502.4" stroke="#151515" stroke-width="2.21" fill="none"/>
<path d="M412.9,510.6L572.0,510.6" stroke="#151515" stroke-width="1.17" fill="none"/>
<path d="M412.9,513.6L572.0,513.6" stroke="#151515" stroke-width="2.21" fill="none"/>
<path d="M412.9,516.5L572.0,516.5" stroke="#151515" stroke-width="1.04" fill="none"/>
<path d="M412.9,519.3L572.0,519.3" stroke="#151515" stroke-width="1.17" fill="none"/>
<path d="M412.9,525.9L572.0,525.9" stroke="#151515" stroke-width="1.17" fill="none"/>
<path d="M412.9,528.2L572.0,528.2" stroke="#151515" stroke-width="2.21" fill="none"/>
<path d="M412.9,530.6L572.0,530.6" stroke="#151515" stroke-width="1.04" fill="none"/>
<path d="M412.9,536.5L572.0,536.5" stroke="#151515" stroke-width="1.17" fill="none"/>
<path d="M412.9,538.8L572.0,538.8" stroke="#151515" stroke-width="1.17" fill="none"/>
<path d="M412.9,544.7L572.0,544.7" stroke="#151515" stroke-width="1.17" fill="none"/>
<path d="M412.9,547.0L572.0,547.0" stroke="#151515" stroke-width="1.04" fill="none"/>
<path d="M412.9,549.9L572.0,549.9" stroke="#151515" stroke-width="2.21" fill="none"/>
<path d="M412.9,556.5L572.0,556.5" stroke="#151515" stroke-width="1.17" fill="none"/>
<path d="M412.9,558.8L572.0,558.8" stroke="#151515" stroke-width="1.04" fill="none"/>
<path d="M412.9,561.6L572.0,561.6" stroke="#151515" stroke-width="2.21" fill="none"/>
<path d="M412.9,564.7L572.0,564.7" stroke="#151515" stroke-width="1.17" fill="none"/>
<path d="M412.9,572.5L572.0,572.5" stroke="#151515" stroke-width="1.17" fill="none"/>
<path d="M412.9,574.6L572.0,574.6" stroke="#151515" stroke-width="2.21" fill="none"/>
<path d="M412.9,591.9L572.0,591.9" stroke="#151515" stroke-width="1.17" fill="none"/>
<path d="M412.9,595.5L572.0,595.5" stroke="#151515" stroke-width="1.17" fill="none"/>
<path d="M412.9,597.7L572.0,597.7" stroke="#151515" stroke-width="1.17" fill="none"/>
<path d="M412.9,471.9 L401.9,472.4 L381.4,480.1 L380.4,486 L379,510 L378.6,537.6 L379,565 L380.4,589 L381.4,595.1 L401.9,602.8 L412.9,603.3 Z" stroke="#151515" stroke-width="1.56" fill="#fff" stroke-linejoin="round" stroke-linecap="round" />
<path d="M401.9,472.4 Q406.6,537.6 401.9,602.8" stroke="#151515" stroke-width="1.30" fill="none" stroke-linejoin="round" stroke-linecap="round" />
<path d="M401.9,474.8 L383,482 M401.9,600.4 L383,593.2" stroke="#151515" stroke-width="1.17" fill="none" stroke-linejoin="round" stroke-linecap="round" />
<path d="M382.6,482 Q379.4,537.6 382.6,593.2" stroke="#151515" stroke-width="1.17" fill="none" stroke-linejoin="round" stroke-linecap="round" />
<path d="M382.6,484 Q391.4,537.6 382.6,591.2" stroke="#151515" stroke-width="1.17" fill="none" stroke-linejoin="round" stroke-linecap="round" />
<path d="M381.8,490 Q386.4,537.6 381.8,585" stroke="#151515" stroke-width="0.91" fill="none" stroke-linejoin="round" stroke-linecap="round" />
<path d="M383.4,487.4 Q387,486.6 390.4,489 L384,491.4 M383.4,587.8 Q387,588.6 390.4,586.2 L384,583.8" stroke="#151515" stroke-width="1.17" fill="none" stroke-linejoin="round" stroke-linecap="round" />
<rect x="479.2" y="440.6" width="27.2" height="194.4" rx="0" stroke="#151515" stroke-width="1.56" fill="#fff"/>
<path d="M479.2,462.6L506.4,462.6" stroke="#151515" stroke-width="1.30" fill="none"/>
<path d="M479.2,612.4L506.4,612.4" stroke="#151515" stroke-width="1.30" fill="none"/>
<circle cx="492.8" cy="506.2" r="5.2" stroke="#151515" stroke-width="1.56" fill="#fff"/>
<path d="M488.2,508.4 Q492.8,505.6 497.4,508.4" stroke="#151515" stroke-width="1.04" fill="none" stroke-linejoin="round" stroke-linecap="round" />
<circle cx="492.8" cy="537.0" r="5.2" stroke="#151515" stroke-width="1.56" fill="#fff"/>
<path d="M488.2,539.2 Q492.8,536.4 497.4,539.2" stroke="#151515" stroke-width="1.04" fill="none" stroke-linejoin="round" stroke-linecap="round" />
<circle cx="492.8" cy="567.8" r="5.2" stroke="#151515" stroke-width="1.56" fill="#fff"/>
<path d="M488.2,570.0 Q492.8,567.2 497.4,570.0" stroke="#151515" stroke-width="1.04" fill="none" stroke-linejoin="round" stroke-linecap="round" />
<path d="M483.4,635 L484.8,643.6 L487.4,644.8 L487.4,635 M501.6,635 L500.2,643.6 L497.8,644.8 L497.8,635" stroke="#151515" stroke-width="1.56" fill="#fff" stroke-linejoin="round" stroke-linecap="round" />
<path d="M487.4,635 L487.4,645 L488.4,652 L488.4,660 L497,660 L497,652 L498,645 L498,635 Z" stroke="#151515" stroke-width="2.08" fill="#fff" stroke-linejoin="round" stroke-linecap="round" />
<path d="M490.2,635.0L490.2,660.0" stroke="#151515" stroke-width="1.95" fill="none"/>
<path d="M495.2,635.0L495.2,660.0" stroke="#151515" stroke-width="1.95" fill="none"/>
<rect x="491.4" y="637.6" width="2.6" height="5.6" rx="0" stroke="#151515" stroke-width="1.04" fill="#fff"/>
<rect x="491.0" y="644.8" width="3.4" height="3.2" rx="0" stroke="#151515" stroke-width="1.04" fill="#fff"/>
<path d="M488.4,651.6L497.0,651.6" stroke="#151515" stroke-width="1.56" fill="none"/>
<rect x="490.0" y="655.0" width="6.0" height="2.2" rx="0" stroke="#151515" stroke-width="1.17" fill="#fff"/>
<path d="M483.4,635.6L501.6,635.6" stroke="#151515" stroke-width="2.08" fill="none"/>
<path d="M572,473.8 L572,471.6 L590,472.4 L604,476.6 L610.4,481 L610.4,594 L604,598.4 L590,602.6 L572,603.2 Z" stroke="#151515" stroke-width="1.56" fill="#fff" stroke-linejoin="round" stroke-linecap="round" />
<path d="M572,474.8 L590,475.6 L601,479 L608,483.6" stroke="#151515" stroke-width="1.04" fill="none" stroke-linejoin="round" stroke-linecap="round" />
<path d="M572,600 L590,599.4 L601,596 L608,591.4" stroke="#151515" stroke-width="1.04" fill="none" stroke-linejoin="round" stroke-linecap="round" />
<path d="M574.6,474.0L574.6,601.0" stroke="#151515" stroke-width="1.04" fill="none"/>
<rect x="610.4" y="468.0" width="3.8" height="139.6" rx="0" stroke="#151515" stroke-width="1.30" fill="#fff"/>
<path d="M612.2,482.0L612.2,594.0" stroke="#151515" stroke-width="0.78" fill="none"/>
<path d="M601.0,459.2L626.4,459.2L631.6,468.0L631.6,481.2L628.6,481.2L628.6,476.0L625.0,476.0L625.0,481.2L622.0,481.2L622.0,476.0L617.6,476.0L617.6,481.2L614.2,481.2L614.2,468.6L606.0,468.6L606.0,466.4L601.0,466.4Z" stroke="#151515" stroke-width="1.56" fill="#fff" stroke-linejoin="round"/>
<rect x="606.0" y="468.6" width="4.4" height="6.0" rx="0" stroke="#151515" stroke-width="1.04" fill="#fff"/>
<path d="M608.2,468.6L608.2,474.6" stroke="#151515" stroke-width="0.78" fill="none"/>
<path d="M601.0,615.2L626.4,615.2L631.6,606.4L631.6,593.2L628.6,593.2L628.6,598.4L625.0,598.4L625.0,593.2L622.0,593.2L622.0,598.4L617.6,598.4L617.6,593.2L614.2,593.2L614.2,605.8L606.0,605.8L606.0,608.0L601.0,608.0Z" stroke="#151515" stroke-width="1.56" fill="#fff" stroke-linejoin="round"/>
<rect x="606.0" y="599.8" width="4.4" height="6.0" rx="0" stroke="#151515" stroke-width="1.04" fill="#fff"/>
<path d="M608.2,605.8L608.2,599.8" stroke="#151515" stroke-width="0.78" fill="none"/>
<rect x="603.2" y="516.0" width="5.2" height="10.4" rx="1" stroke="#151515" stroke-width="1.43" fill="#fff"/>
<rect x="605.0" y="548.0" width="6.4" height="5.8" rx="1" stroke="#151515" stroke-width="1.43" fill="#fff"/>
<rect x="618.0" y="527.6" width="14.6" height="18.8" rx="1" stroke="#151515" stroke-width="2.08" fill="#fff"/>
<rect x="596.2" y="526.4" width="22.0" height="21.6" rx="1.5" stroke="#151515" stroke-width="2.86" fill="#fff"/>
<rect x="598.6" y="529.6" width="17.4" height="15.2" rx="0" stroke="#151515" stroke-width="1.69" fill="#333"/>
<rect x="599.8" y="532.0" width="3.2" height="10.0" rx="0" stroke="#151515" stroke-width="0.00" fill="#fff"/>
<rect x="610.4" y="532.4" width="4.4" height="9.6" rx="0" stroke="#151515" stroke-width="0.00" fill="#fff"/>
<path d="M607.0,531.0L607.0,543.0" stroke="#999" stroke-width="1.04" fill="none"/>
<rect x="620.4" y="535.4" width="10.6" height="3.6" rx="0" stroke="#151515" stroke-width="0.00" fill="#fff"/>
<path d="M618.0,531.4L632.6,531.4" stroke="#151515" stroke-width="1.69" fill="none"/>
<path d="M618.0,542.8L632.6,542.8" stroke="#151515" stroke-width="1.69" fill="none"/>
<path d="M621.6,527.6L621.6,546.4" stroke="#151515" stroke-width="1.56" fill="none"/>
<path d="M629.4,527.6L629.4,546.4" stroke="#151515" stroke-width="1.30" fill="none"/>
<rect x="618.6" y="532.2" width="13.4" height="2.4" rx="0" stroke="#151515" stroke-width="0.00" fill="#333"/>
<rect x="618.6" y="539.8" width="13.4" height="2.4" rx="0" stroke="#151515" stroke-width="0.00" fill="#333"/>
<path d="M97.9,72.0L97.9,225.0" stroke="#2b2bd6" stroke-width="1.35" fill="none"/>
<path d="M317.3,72.0L317.3,202.5" stroke="#2b2bd6" stroke-width="1.35" fill="none"/>
<path d="M97.9,81.0L317.3,81.0" stroke="#2b2bd6" stroke-width="1.35" fill="none"/>
<path d="M98.3,81.0L118.3,77.3L118.3,84.7Z" stroke="#0808ee" stroke-width="0.52" fill="#0808ee" stroke-linejoin="round"/>
<path d="M316.9,81.0L296.9,77.3L296.9,84.7Z" stroke="#0808ee" stroke-width="0.52" fill="#0808ee" stroke-linejoin="round"/>
<g transform="translate(207.3,63.4) rotate(0) scale(1,0.97) translate(-23.00,-10)" stroke="#2b2bd6" stroke-width="1.30" fill="none" stroke-linecap="round" stroke-linejoin="round"><path transform="translate(0.00,0)" d="M0.5,4 Q1.4,0.2 4,0.2 L9.4,0.2 Q12.2,0.2 12.2,3 L12.2,6.8 Q12.2,9.4 9.4,9.8 L3.4,10.6 Q0.6,11 0.6,13.6 L0.6,20 L12.4,20"/><path transform="translate(16.50,0)" d="M4.8,0.2 L8.2,0.2 Q11.8,0.2 11.8,3.6 L11.8,6.4 Q11.8,9.8 8.2,9.8 L4.8,9.8 Q1.2,9.8 1.2,6.4 L1.2,3.6 Q1.2,0.2 4.8,0.2 Z M4.8,9.8 Q0.6,9.8 0.6,13.6 L0.6,16.2 Q0.6,20 4.8,20 L8.2,20 Q12.4,20 12.4,16.2 L12.4,13.6 Q12.4,9.8 8.2,9.8"/><path transform="translate(33.00,0)" d="M0.5,3.8 Q1.6,0.2 4.2,0.2 L9.6,0.2 Q12.4,0.2 12.4,3 L12.4,7 Q12.4,9.8 9.6,9.8 L5.6,9.8 M9.6,9.8 Q12.4,9.8 12.4,12.6 L12.4,17.2 Q12.4,20 9.6,20 L4.2,20 Q1.6,20 0.5,16.4"/></g>
<path d="M372.4,72.0L372.4,287.5" stroke="#2b2bd6" stroke-width="1.35" fill="none"/>
<path d="M624.2,72.0L624.2,286.5" stroke="#2b2bd6" stroke-width="1.35" fill="none"/>
<path d="M372.4,80.8L624.2,80.8" stroke="#2b2bd6" stroke-width="1.35" fill="none"/>
<path d="M372.7,80.8L392.7,77.1L392.7,84.5Z" stroke="#0808ee" stroke-width="0.52" fill="#0808ee" stroke-linejoin="round"/>
<path d="M623.8,80.8L603.8,77.1L603.8,84.5Z" stroke="#0808ee" stroke-width="0.52" fill="#0808ee" stroke-linejoin="round"/>
<g transform="translate(498.3,63.8) rotate(0) scale(1,0.97) translate(-23.00,-10)" stroke="#2b2bd6" stroke-width="1.30" fill="none" stroke-linecap="round" stroke-linejoin="round"><path transform="translate(0.00,0)" d="M0.5,3.8 Q1.6,0.2 4.2,0.2 L9.6,0.2 Q12.4,0.2 12.4,3 L12.4,7 Q12.4,9.8 9.6,9.8 L5.6,9.8 M9.6,9.8 Q12.4,9.8 12.4,12.6 L12.4,17.2 Q12.4,20 9.6,20 L4.2,20 Q1.6,20 0.5,16.4"/><path transform="translate(16.50,0)" d="M0.5,4 Q1.4,0.2 4,0.2 L9.4,0.2 Q12.2,0.2 12.2,3 L12.2,6.8 Q12.2,9.4 9.4,9.8 L3.4,10.6 Q0.6,11 0.6,13.6 L0.6,20 L12.4,20"/><path transform="translate(33.00,0)" d="M9.2,20 L9.2,0.2 L0.4,13.2 L12.6,13.2"/></g>
<path d="M602.0,202.0L679.5,202.0" stroke="#2b2bd6" stroke-width="1.35" fill="none"/>
<path d="M577.0,408.3L679.5,408.3" stroke="#2b2bd6" stroke-width="1.35" fill="none"/>
<path d="M671.8,202.0L671.8,408.3" stroke="#2b2bd6" stroke-width="1.35" fill="none"/>
<path d="M671.8,202.4L668.1,222.4L675.5,222.4Z" stroke="#0808ee" stroke-width="0.52" fill="#0808ee" stroke-linejoin="round"/>
<path d="M671.8,407.9L668.1,387.9L675.5,387.9Z" stroke="#0808ee" stroke-width="0.52" fill="#0808ee" stroke-linejoin="round"/>
<g transform="translate(655.0,304.6) rotate(-90) scale(1,0.97) translate(-23.00,-10)" stroke="#2b2bd6" stroke-width="1.30" fill="none" stroke-linecap="round" stroke-linejoin="round"><path transform="translate(0.00,0)" d="M0.5,4 Q1.4,0.2 4,0.2 L9.4,0.2 Q12.2,0.2 12.2,3 L12.2,6.8 Q12.2,9.4 9.4,9.8 L3.4,10.6 Q0.6,11 0.6,13.6 L0.6,20 L12.4,20"/><path transform="translate(16.50,0)" d="M8.6,0.3 Q5,1.8 3.2,4.8 Q1.2,8 0.6,11.6 L0.6,17 Q0.6,20 3.6,20 L9.4,20 Q12.4,20 12.4,17 L12.4,12.8 Q12.4,9.9 9.4,9.9 L3.6,9.9 Q1,9.9 0.6,12.6"/><path transform="translate(33.00,0)" d="M8.6,0.3 Q5,1.8 3.2,4.8 Q1.2,8 0.6,11.6 L0.6,17 Q0.6,20 3.6,20 L9.4,20 Q12.4,20 12.4,17 L12.4,12.8 Q12.4,9.9 9.4,9.9 L3.6,9.9 Q1,9.9 0.6,12.6"/></g>
<path d="M799.0,109.6L980.0,109.6" stroke="#2b2bd6" stroke-width="1.35" fill="none"/>
<path d="M808.0,409.8L980.0,409.8" stroke="#2b2bd6" stroke-width="1.35" fill="none"/>
<path d="M971.5,109.6L971.5,409.8" stroke="#2b2bd6" stroke-width="1.35" fill="none"/>
<path d="M971.5,110.0L967.8,130.0L975.2,130.0Z" stroke="#0808ee" stroke-width="0.52" fill="#0808ee" stroke-linejoin="round"/>
<path d="M971.5,409.4L967.8,389.4L975.2,389.4Z" stroke="#0808ee" stroke-width="0.52" fill="#0808ee" stroke-linejoin="round"/>
<g transform="translate(954.0,260.0) rotate(-90) scale(1,0.97) translate(-23.00,-10)" stroke="#2b2bd6" stroke-width="1.30" fill="none" stroke-linecap="round" stroke-linejoin="round"><path transform="translate(0.00,0)" d="M0.5,3.8 Q1.6,0.2 4.2,0.2 L9.6,0.2 Q12.4,0.2 12.4,3 L12.4,7 Q12.4,9.8 9.6,9.8 L5.6,9.8 M9.6,9.8 Q12.4,9.8 12.4,12.6 L12.4,17.2 Q12.4,20 9.6,20 L4.2,20 Q1.6,20 0.5,16.4"/><path transform="translate(16.50,0)" d="M4.8,0.2 L8.2,0.2 Q11.8,0.2 11.8,3.6 L11.8,6.4 Q11.8,9.8 8.2,9.8 L4.8,9.8 Q1.2,9.8 1.2,6.4 L1.2,3.6 Q1.2,0.2 4.8,0.2 Z M4.8,9.8 Q0.6,9.8 0.6,13.6 L0.6,16.2 Q0.6,20 4.8,20 L8.2,20 Q12.4,20 12.4,16.2 L12.4,13.6 Q12.4,9.8 8.2,9.8"/><path transform="translate(33.00,0)" d="M4.4,19.7 Q8,18.2 9.8,15.2 Q11.8,12 12.4,8.4 L12.4,3 Q12.4,0 9.4,0 L3.6,0 Q0.6,0 0.6,3 L0.6,7.2 Q0.6,10.1 3.6,10.1 L9.4,10.1 Q12,10.1 12.4,7.4"/></g>
<path d="M332.5,506.4L484.5,506.4" stroke="#2b2bd6" stroke-width="1.35" fill="none"/>
<path d="M332.5,568.5L484.5,568.5" stroke="#2b2bd6" stroke-width="1.35" fill="none"/>
<path d="M340.2,506.4L340.2,568.5" stroke="#2b2bd6" stroke-width="1.35" fill="none"/>
<path d="M340.2,506.8L336.5,526.8L343.9,526.8Z" stroke="#0808ee" stroke-width="0.52" fill="#0808ee" stroke-linejoin="round"/>
<path d="M340.2,568.1L336.5,548.1L343.9,548.1Z" stroke="#0808ee" stroke-width="0.52" fill="#0808ee" stroke-linejoin="round"/>
<g transform="translate(322.6,537.8) rotate(-90) scale(1,0.97) translate(-13.45,-10)" stroke="#2b2bd6" stroke-width="1.30" fill="none" stroke-linecap="round" stroke-linejoin="round"><path transform="translate(0.00,0)" d="M4.8,0.2 L8.2,0.2 Q11.8,0.2 11.8,3.6 L11.8,6.4 Q11.8,9.8 8.2,9.8 L4.8,9.8 Q1.2,9.8 1.2,6.4 L1.2,3.6 Q1.2,0.2 4.8,0.2 Z M4.8,9.8 Q0.6,9.8 0.6,13.6 L0.6,16.2 Q0.6,20 4.8,20 L8.2,20 Q12.4,20 12.4,16.2 L12.4,13.6 Q12.4,9.8 8.2,9.8"/><path transform="translate(16.50,0)" d="M5.2,0.2 Q0.6,0.2 0.6,5.4 L0.6,14.8 Q0.6,20 5.2,20 Q9.8,20 9.8,14.8 L9.8,5.4 Q9.8,0.2 5.2,0.2"/></g>
<path d="M634.0,474.6L690.0,474.6" stroke="#2b2bd6" stroke-width="1.35" fill="none"/>
<path d="M634.0,599.7L690.0,599.7" stroke="#2b2bd6" stroke-width="1.35" fill="none"/>
<path d="M681.6,474.6L681.6,599.7" stroke="#2b2bd6" stroke-width="1.35" fill="none"/>
<path d="M681.6,475.0L677.9,495.0L685.3,495.0Z" stroke="#0808ee" stroke-width="0.52" fill="#0808ee" stroke-linejoin="round"/>
<path d="M681.6,599.3L677.9,579.3L685.3,579.3Z" stroke="#0808ee" stroke-width="0.52" fill="#0808ee" stroke-linejoin="round"/>
<g transform="translate(664.9,537.8) rotate(-90) scale(1,0.97) translate(-17.60,-10)" stroke="#2b2bd6" stroke-width="1.30" fill="none" stroke-linecap="round" stroke-linejoin="round"><path transform="translate(0.00,0)" d="M0.5,3.6 L3.9,0.2 L3.9,20 M0.4,20 L7.2,20"/><path transform="translate(11.10,0)" d="M8.6,0.3 Q5,1.8 3.2,4.8 Q1.2,8 0.6,11.6 L0.6,17 Q0.6,20 3.6,20 L9.4,20 Q12.4,20 12.4,17 L12.4,12.8 Q12.4,9.9 9.4,9.9 L3.6,9.9 Q1,9.9 0.6,12.6"/><path transform="translate(27.60,0)" d="M0.5,3.6 L3.9,0.2 L3.9,20 M0.4,20 L7.2,20"/></g>
</svg></body></html>
